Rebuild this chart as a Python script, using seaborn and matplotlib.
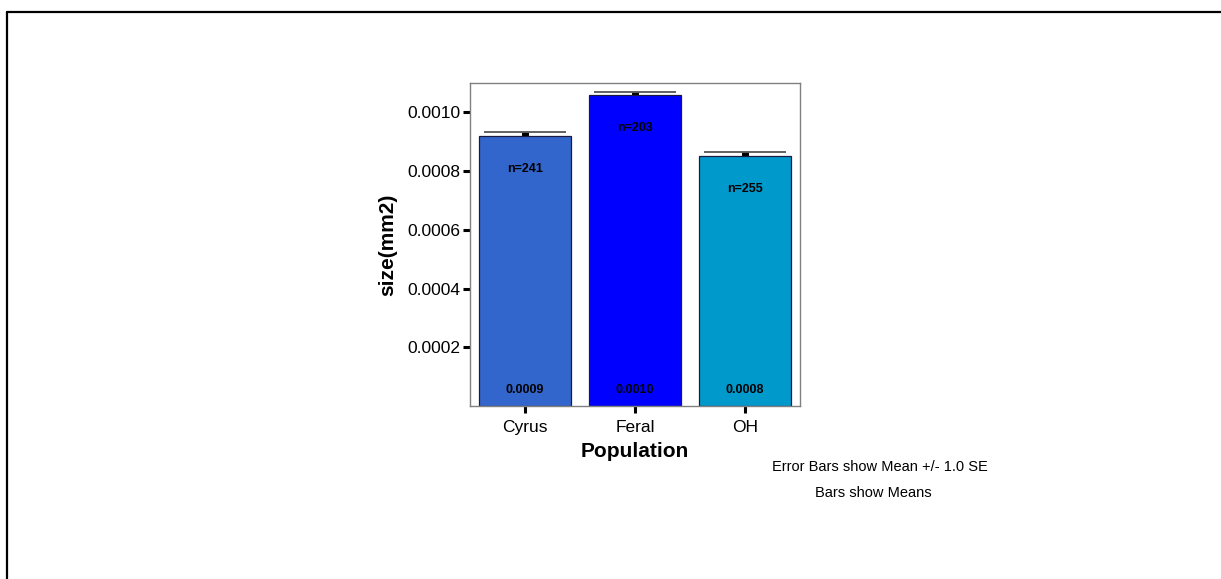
import math
import matplotlib
matplotlib.use("Agg")
import matplotlib.pyplot as plt
from matplotlib.lines import Line2D
import pandas as pd
import seaborn as sns

# Population means of size (mm2), standard errors and sample sizes
populations = ["Cyrus", "Feral", "OH"]
mean_size = [0.000918, 0.001058, 0.000853]
se_size = [0.0000136, 0.0000116, 0.0000113]
n_obs = [241, 203, 255]
bar_colors = ["#3366CC", "#0000FF", "#0099CC"]
y_ticks = [0.0002, 0.0004, 0.0006, 0.0008, 0.0010]

sns.set_theme(style="white")
plt.rcParams["font.family"] = ["Liberation Sans", "DejaVu Sans"]

df = pd.DataFrame({"Population": populations, "size": mean_size})

fig = plt.figure(figsize=(12.21, 5.79), dpi=100)
ax = fig.add_axes([470 / 1221, 1 - 406 / 579, 330 / 1221, 323 / 579])

# Error bar stems sit behind the bars, so only the upper half shows
for i, (m, s) in enumerate(zip(mean_size, se_size)):
    ax.vlines(i, m - s, m + s, color="black", linewidth=5, zorder=1)

sns.barplot(data=df, x="Population", y="size", hue="Population",
            palette=bar_colors, width=0.845, errorbar=None, legend=False,
            edgecolor="#1a1a40", linewidth=0.9, saturation=1, ax=ax, zorder=2)

for i, (m, s) in enumerate(zip(mean_size, se_size)):
    ax.hlines(m + s, i - 0.375, i + 0.375, color="#555555", linewidth=1.3, zorder=3)
    ax.annotate(f"n={n_obs[i]}", xy=(i, m), xytext=(0, -23.8),
                textcoords="offset points", ha="center", va="center",
                fontsize=9, fontweight="bold", color="black", zorder=4)
    truncated = math.floor(m * 10000) / 10000
    ax.text(i, 0.0000545, f"{truncated:.4f}", ha="center", va="center",
            fontsize=9, fontweight="bold", color="black", zorder=4)

ax.set_xlim(-0.5, 2.5)
ax.set_ylim(0, 0.0011)
ax.set_yticks(y_ticks)
ax.set_yticklabels([f"{t:.4f}" for t in y_ticks])
ax.set_xlabel("Population", fontsize=15, fontweight="bold", labelpad=5,
              color="black")
ax.set_ylabel("size(mm2)", fontsize=15, fontweight="bold", labelpad=7,
              color="black")
ax.tick_params(axis="both", which="major", direction="out", length=5,
               width=2.2, color="black", labelsize=12.5, labelcolor="black",
               left=True, bottom=True)
ax.tick_params(axis="y", pad=2)
ax.tick_params(axis="x", pad=5)
for sp in ax.spines.values():
    sp.set_color("#808080")
    sp.set_linewidth(1.0)

fig.text(880 / 1221, 1 - 467 / 579, "Error Bars show Mean +/- 1.0 SE",
         ha="center", va="center", fontsize=10.5, color="black")
fig.text(873 / 1221, 1 - 493 / 579, "Bars show Means",
         ha="center", va="center", fontsize=10.5, color="black")

# Outer frame (left and top edges)
fx = 6.5 / 1221
fy = 1 - 11.5 / 579
fig.add_artist(Line2D([fx, fx], [0, fy], transform=fig.transFigure,
                      color="black", linewidth=1.6))
fig.add_artist(Line2D([fx, 1], [fy, fy], transform=fig.transFigure,
                      color="black", linewidth=1.6))

fig.savefig("out.png", dpi=100)
